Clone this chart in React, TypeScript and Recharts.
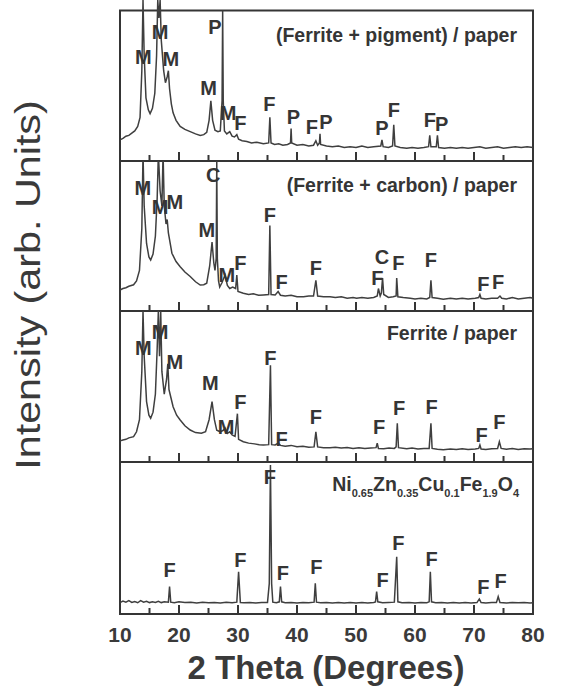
import React from 'react'
import { ComposedChart, Line, Scatter, XAxis, YAxis, ReferenceArea } from 'recharts'

type Pt = [number, number]
type Mark = [number, number, string]

// 2θ (deg), intensity (0 = panel floor, 100 = panel ceiling)
const pigmentTrace: Pt[] = [
  [10, 14], [10.5, 15], [11, 16.5], [11.5, 17], [12, 18.5], [12.5, 20], [13, 23], [13.4, 29], [13.7, 60], [13.9, 107],
  [14.1, 70], [14.4, 42], [14.8, 34], [15.1, 31.5], [15.5, 35], [15.9, 45], [16.2, 70], [16.4, 107], [16.6, 95], [16.8, 107],
  [17.0, 80], [17.4, 60], [17.7, 52], [18.0, 56], [18.2, 60], [18.4, 48], [18.7, 38], [19.0, 32], [19.5, 27], [20.2, 23],
  [21, 21], [21.9, 19.5], [22.8, 18], [23.6, 17], [24.2, 17.5], [24.7, 19], [25.1, 27], [25.4, 40], [25.7, 27], [26.1, 20.5],
  [26.6, 19.5], [27.0, 20], [27.3, 40], [27.4, 100], [27.5, 40], [27.7, 20], [28.1, 18], [28.6, 19.5], [29.0, 16.5], [29.4, 16],
  [29.8, 17.5], [30.1, 14.5], [30.7, 13.5], [31.5, 13], [32.3, 12], [33.2, 12.5], [34.3, 11.5], [35.2, 12], [35.4, 29], [35.6, 12],
  [36.2, 11], [36.9, 11.5], [37.6, 10.5], [38.4, 11], [38.9, 12], [39.0, 21.5], [39.1, 12], [40, 10.5], [41, 11], [42, 10],
  [42.8, 10.5], [43.2, 13.5], [43.5, 10.5], [43.8, 12], [43.9, 18], [44.0, 11], [45, 10], [46, 9.5], [47, 10], [48, 9],
  [49, 9.5], [50, 9], [51, 10], [52, 9], [53, 9.5], [54.2, 10], [54.4, 14], [54.6, 9.5], [55.5, 9], [56.2, 10],
  [56.4, 24], [56.6, 10], [57.5, 9], [58.6, 8.5], [59.5, 9], [60.5, 8.5], [61.5, 9], [62.3, 9.5], [62.5, 17], [62.7, 9.5],
  [63.6, 9.5], [63.8, 17], [64.0, 9], [65, 8.5], [66, 9], [67, 8.5], [68, 9], [69, 8.5], [70, 9], [71, 9.5],
  [72, 8.5], [73, 9], [74, 9.5], [75, 8.5], [76, 9], [77, 9.5], [78, 9], [79, 9.5], [80, 9],
]

const carbonTrace: Pt[] = [
  [10, 14], [10.5, 15], [11, 15.5], [11.5, 16.5], [12.3, 17.5], [12.8, 20], [13.3, 27], [13.7, 55], [13.9, 105], [14.1, 70],
  [14.5, 45], [14.9, 36], [15.2, 34], [15.6, 38], [16.0, 50], [16.3, 75], [16.5, 105], [16.8, 80], [17.1, 70], [17.3, 105],
  [17.5, 70], [17.8, 58], [18.0, 61], [18.2, 52], [18.8, 38.5], [19.5, 33], [20.2, 29.5], [21, 26], [21.9, 23], [22.8, 19.5],
  [23.6, 17.3], [24.2, 17.5], [24.7, 18.5], [25.2, 30], [25.6, 46], [25.9, 32], [26.1, 27], [26.3, 35], [26.4, 100], [26.5, 35],
  [26.7, 20], [26.9, 16], [27.3, 19], [27.8, 24], [28.2, 17], [28.6, 15], [29.1, 16], [29.6, 15], [29.8, 24], [30.0, 13],
  [30.9, 11.8], [31.8, 11], [32.6, 11.5], [33.5, 10.5], [34.3, 10.7], [35.2, 11], [35.4, 57], [35.6, 11], [36.3, 10.7], [36.8, 13],
  [37.2, 10.5], [38, 10], [39, 10.5], [40, 9.5], [41.1, 9.5], [42, 10], [42.8, 10], [43.2, 20.5], [43.5, 10], [44.5, 9.5],
  [45.6, 9.5], [46.5, 9], [47.5, 9.5], [48.5, 8.5], [49.5, 9], [50.1, 8.5], [51, 9], [52, 8.5], [53, 9], [53.6, 10],
  [53.8, 15], [54.1, 10], [54.3, 12], [54.5, 22], [54.7, 11], [55.5, 9], [56.3, 9.5], [56.8, 10], [56.9, 22], [57.1, 9.5],
  [58, 9], [59.2, 8.5], [60, 8], [61, 8.5], [62, 8], [62.5, 9], [62.7, 20.5], [62.9, 9], [63.8, 8.5], [64.8, 7.8],
  [66, 8.5], [67, 8], [68, 8.5], [69, 8], [70.2, 8.5], [70.8, 9], [71.0, 11], [71.2, 8.5], [72, 8], [73, 8.5],
  [74, 8.5], [74.4, 10], [74.7, 8.5], [75.5, 8], [76.5, 9], [77.5, 8], [78.5, 8.5], [79.5, 9], [80, 8.5],
]

const ferritePaperTrace: Pt[] = [
  [10, 14], [10.5, 14.6], [11, 15], [11.5, 16], [12.3, 16.8], [12.8, 20], [13.3, 28], [13.7, 60], [13.9, 100], [14.1, 70],
  [14.5, 40], [14.9, 31], [15.2, 29], [15.6, 33], [16.0, 45], [16.3, 75], [16.5, 100], [16.7, 70], [16.9, 100], [17.1, 60],
  [17.5, 45], [17.9, 55], [18.1, 65], [18.3, 48], [19.0, 36.6], [19.6, 31], [20.2, 27.8], [21, 24], [21.9, 21.2], [22.8, 19.5],
  [23.8, 19], [24.5, 20], [25.1, 28], [25.6, 40], [26.0, 28], [26.4, 21], [27.0, 20], [27.5, 21], [27.8, 22.5], [28.2, 19],
  [28.6, 20], [29.0, 18], [29.5, 17], [29.9, 32], [30.1, 15], [30.9, 13.4], [31.8, 12.5], [32.8, 12], [33.6, 11.5], [34.3, 11.3],
  [35.2, 11.5], [35.5, 64], [35.7, 11.5], [36.3, 11.3], [36.8, 12.5], [37.2, 11], [38, 10.5], [39, 11], [40, 10.1], [41, 10.5],
  [42, 9.8], [42.9, 10], [43.2, 20], [43.5, 10], [44.5, 9.5], [45.6, 9.5], [46.5, 9.8], [47.5, 9.2], [48.5, 9.6], [49.5, 9],
  [50.5, 9.5], [51.5, 9], [52.5, 9.3], [53.4, 9.5], [53.6, 12.4], [53.8, 9], [54.7, 8.8], [55.6, 9.2], [56.5, 9], [56.8, 10],
  [57.0, 25.6], [57.2, 9.5], [58.6, 8.8], [59.5, 9.2], [60.5, 8.6], [61.5, 9], [62.4, 9], [62.7, 25.6], [62.9, 9], [63.8, 8.5],
  [64.8, 8.1], [66, 8.6], [67, 8.2], [68, 8.7], [69, 8.2], [70.2, 8.6], [70.8, 9], [71.0, 11.3], [71.2, 8.6], [72, 8.3],
  [73, 8.8], [74.0, 9], [74.3, 13.4], [74.6, 9], [75.5, 8.4], [76.5, 8.9], [77.5, 8.3], [78.5, 8.8], [79.5, 8.6], [80, 8.8],
]

const ferriteTrace: Pt[] = [
  [10, 7.5], [10.5, 8.5], [11, 7.8], [11.5, 8.8], [12, 7.6], [12.5, 8.2], [13, 7.4], [13.5, 8.8], [14, 7.8], [14.5, 8.3],
  [15, 7.5], [15.5, 8], [16, 7.6], [16.5, 8.4], [17, 7.5], [17.5, 8], [18.2, 7.8], [18.4, 18], [18.6, 7.8], [19.2, 7.4],
  [20, 8], [21, 7.5], [22, 7.8], [23, 7.3], [24, 7.8], [25, 7.4], [26, 7.6], [27, 7.3], [28, 7.8], [29, 7.4],
  [29.8, 7.8], [30.1, 27.8], [30.4, 7.6], [31, 7.4], [32, 7.6], [33, 7.3], [34, 7.5], [35.0, 7.6], [35.3, 20], [35.5, 98],
  [35.7, 20], [35.9, 7.8], [36.5, 7.4], [37.0, 8], [37.2, 18], [37.4, 8], [38, 7.4], [39, 7.6], [40, 7.3], [41, 7.6],
  [42, 7.4], [42.9, 7.8], [43.1, 20.2], [43.3, 7.8], [44, 7.4], [45, 7.6], [46, 7.3], [47, 7.5], [48, 7.2], [49, 7.6],
  [50, 7.3], [51, 7.5], [52, 7.2], [53, 7.6], [53.3, 8], [53.5, 14.7], [53.7, 8], [54.5, 7.4], [55.5, 7.6], [56.5, 7.8],
  [56.9, 37.7], [57.1, 8], [57.8, 7.4], [59, 7.6], [60, 7.3], [61, 7.5], [62, 7.4], [62.4, 8], [62.6, 27.8], [62.8, 8],
  [63.5, 7.4], [64.5, 7.6], [65.5, 7.3], [66.5, 7.5], [67.5, 7.2], [68.5, 7.6], [69.5, 7.3], [70.5, 7.5], [70.9, 9.9], [71.2, 7.5],
  [72, 7.3], [73, 7.6], [73.8, 7.5], [74.1, 11.4], [74.4, 7.6], [75.5, 7.3], [76.5, 7.6], [77.5, 7.4], [78.5, 7.6], [79.5, 7.3],
  [80, 7.4],
]

// peak letters: F ferrite, M paper, P pigment, C carbon
const pigmentMarks: Mark[] = [
  [13.95, 69, 'M'], [16.8, 85.6, 'M'], [18.6, 68, 'M'], [25.0, 48.8, 'M'], [26.1, 89, 'P'], [28.3, 31.6, 'M'],
  [30.4, 25, 'F'], [35.3, 38.2, 'F'], [39.4, 29, 'P'], [42.5, 22.3, 'F'], [44.9, 26, 'P'], [54.4, 21.6, 'P'],
  [56.4, 33.8, 'F'], [62.5, 27.2, 'F'], [64.5, 24.5, 'P'],
]

const carbonMarks: Mark[] = [
  [13.85, 81.8, 'M'], [16.8, 69.5, 'M'], [19.3, 72.9, 'M'], [24.7, 54, 'M'], [25.8, 90.7, 'C'], [28.1, 24, 'M'],
  [30.4, 31.8, 'F'], [35.4, 64, 'F'], [37.4, 19.5, 'F'], [43.2, 28.5, 'F'], [53.6, 21.8, 'F'], [54.4, 35.8, 'C'],
  [57.2, 31.8, 'F'], [62.7, 34, 'F'], [71.6, 18, 'F'], [74.1, 19.5, 'F'],
]

const ferritePaperMarks: Mark[] = [
  [13.95, 75.3, 'M'], [16.8, 86.3, 'M'], [19.3, 66.4, 'M'], [25.3, 52.1, 'M'], [28.0, 23.4, 'M'], [30.4, 40, 'F'],
  [35.5, 68.7, 'F'], [37.4, 15.5, 'F'], [43.2, 29.6, 'F'], [53.9, 23, 'F'], [57.3, 35.6, 'F'], [62.8, 36.6, 'F'],
  [71.3, 17.9, 'F'], [74.3, 26.7, 'F'],
]

const ferriteMarks: Mark[] = [
  [18.4, 29, 'F'], [30.4, 35.5, 'F'], [35.4, 90.3, 'F'], [37.6, 27.2, 'F'], [43.3, 31.1, 'F'], [54.5, 22.4, 'F'],
  [57.2, 46.5, 'F'], [62.8, 36, 'F'], [71.6, 17.6, 'F'], [74.5, 21.9, 'F'],
]

const xLabels = [10, 20, 30, 40, 50, 60, 70, 80]
const innerTicks = [15, 20, 25, 30, 35, 40, 45, 50, 55, 60, 65, 70, 75]

const FONT = '"Liberation Sans", Arial, Helvetica, sans-serif'
const INK = '#353535'

const toPoints = (arr: Pt[]) => arr.map(([x, y]) => ({ x, y }))
const toMarks = (arr: Mark[]) => arr.map(([x, y, t]) => ({ x, y, t }))
const tickMarks = innerTicks.map((x) => ({ x, y: 0 }))

interface PanelProps {
  trace: Pt[]
  marks: Mark[]
  top: number
  plotHeight: number
  yMax: number
  labels?: boolean
}

function Panel({ trace, marks, top, plotHeight, yMax, labels }: PanelProps) {
  const axisH = labels ? 40 : 30
  return (
    <div style={{ position: 'absolute', left: 0, top }}>
      <ComposedChart width={577} height={plotHeight + axisH} margin={{ top: 0, right: 44, bottom: 0, left: 120 }}>
        <XAxis
          type="number"
          dataKey="x"
          domain={[10, 80]}
          ticks={xLabels}
          interval={0}
          height={axisH}
          axisLine={false}
          tickLine={false}
          tickSize={0}
          tickMargin={13}
          tick={labels ? { fontSize: 21, fontWeight: 700, fill: '#3a3a3a', fontFamily: FONT } : false}
        />
        <YAxis type="number" dataKey="y" domain={[0, yMax]} allowDataOverflow hide />
        <ReferenceArea x1={10} x2={80} y1={0} y2={100} fill="none" stroke={INK} strokeWidth={2} />
        <Line
          data={toPoints(trace)}
          dataKey="y"
          type="linear"
          stroke="#3f3f3f"
          strokeWidth={1.5}
          dot={false}
          isAnimationActive={false}
        />
        {/* inward ticks on the panel floor: longer on the tens */}
        <Scatter
          data={tickMarks}
          dataKey="y"
          isAnimationActive={false}
          shape={(p: any) => (
            <line
              x1={p.cx}
              x2={p.cx}
              y1={p.cy}
              y2={p.cy - (p.payload.x % 10 === 0 ? 9 : 6)}
              stroke={INK}
              strokeWidth={2}
            />
          )}
        />
        <Scatter
          data={toMarks(marks)}
          dataKey="y"
          isAnimationActive={false}
          shape={(p: any) => (
            <text
              x={p.cx}
              y={p.cy}
              textAnchor="middle"
              dominantBaseline="central"
              fontFamily={FONT}
              fontWeight={700}
              fontSize={20}
              fill={INK}
            >
              {p.payload.t}
            </text>
          )}
        />
      </ComposedChart>
    </div>
  )
}

const titleStyle: React.CSSProperties = {
  position: 'absolute',
  right: 60,
  fontFamily: FONT,
  fontWeight: 700,
  fontSize: 19.5,
  lineHeight: '20px',
  color: INK,
  whiteSpace: 'nowrap',
}

const sub: React.CSSProperties = { fontSize: 11, position: 'relative', top: 6 }

export default function App() {
  return (
    <div style={{ position: 'absolute', left: 0, top: 0, width: 577, height: 688, background: '#fff', overflow: 'hidden' }}>
      <Panel trace={pigmentTrace} marks={pigmentMarks} top={0} plotHeight={161} yMax={107} />
      <Panel trace={carbonTrace} marks={carbonMarks} top={161} plotHeight={150} yMax={100} />
      <Panel trace={ferritePaperTrace} marks={ferritePaperMarks} top={311} plotHeight={151} yMax={100} />
      <Panel trace={ferriteTrace} marks={ferriteMarks} top={462} plotHeight={152} yMax={100} labels />

      <div style={{ ...titleStyle, top: 25 }}>(Ferrite + pigment) / paper</div>
      <div style={{ ...titleStyle, top: 175 }}>(Ferrite + carbon) / paper</div>
      <div style={{ ...titleStyle, top: 323 }}>Ferrite / paper</div>
      <div style={{ ...titleStyle, top: 474, right: 58 }}>
        Ni<span style={sub}>0.65</span>Zn<span style={sub}>0.35</span>Cu<span style={sub}>0.1</span>Fe
        <span style={sub}>1.9</span>O<span style={sub}>4</span>
      </div>

      <div
        style={{
          position: 'absolute',
          left: 28 - 200,
          top: 285 - 20,
          width: 400,
          height: 40,
          lineHeight: '40px',
          textAlign: 'center',
          fontFamily: FONT,
          fontSize: 35,
          color: '#3a3a3a',
          transform: 'rotate(-90deg) scaleX(1.18)',
          whiteSpace: 'nowrap',
        }}
      >
        Intensity (arb. Units)
      </div>
      <div
        style={{
          position: 'absolute',
          left: 326 - 200,
          top: 668 - 20,
          width: 400,
          height: 40,
          lineHeight: '40px',
          textAlign: 'center',
          fontFamily: FONT,
          fontWeight: 700,
          fontSize: 33,
          color: '#3a3a3a',
          whiteSpace: 'nowrap',
        }}
      >
        2 Theta (Degrees)
      </div>
    </div>
  )
}
